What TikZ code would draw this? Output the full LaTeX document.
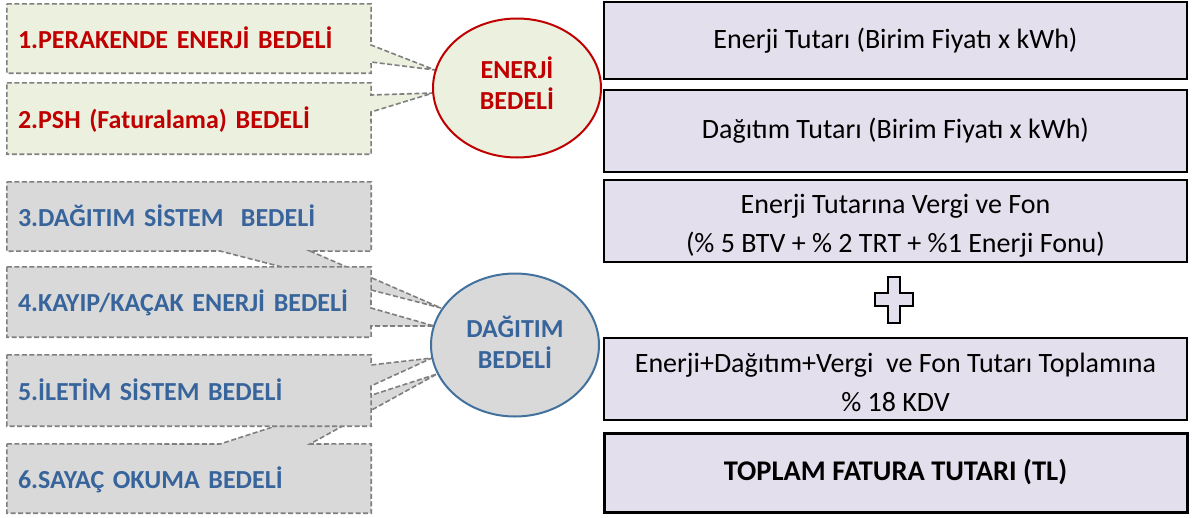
\documentclass[tikz,border=0pt]{standalone}
\usepackage{fontspec}
\setmainfont{Carlito}
\usetikzlibrary{shapes.geometric,backgrounds}

\definecolor{calloutgreen}{HTML}{EBF1DE}
\definecolor{calloutgray}{HTML}{D9D9D9}
\definecolor{dashgray}{HTML}{7F7F7F}
\definecolor{darkred}{HTML}{C00000}
\definecolor{steelblue}{HTML}{38649C}
\definecolor{ringblue}{HTML}{41719C}
\definecolor{lavender}{HTML}{E4DFEC}

% extra depth below the last line of a centred block, to lift it slightly
\newcommand{\liftblock}[1]{\rule[-#1]{0pt}{#1}}
% extra height above the first line of a centred block, to lower it slightly
\newcommand{\dropblock}[1]{\rule{0pt}{#1}}

\begin{document}
\begin{tikzpicture}[x=1pt,y=-1pt,
  itemtext/.style={font=\fontsize{26}{31}\selectfont\bfseries,
    text width=342pt, inner xsep=11pt, inner ysep=0pt,
    text height=24pt, text depth=5pt, align=left, anchor=center},
  redtext/.style={itemtext, text=darkred},
  bluetext/.style={itemtext, text=steelblue},
  greencallout/.style={fill=calloutgreen, draw=dashgray, line width=1.6pt,
    dash pattern=on 5pt off 2.5pt, line join=miter},
  graycallout/.style={greencallout, fill=calloutgray},
  groupring/.style={ellipse, line width=2pt, minimum width=168pt,
    font=\fontsize{26}{31}\selectfont\bfseries, align=center, inner sep=0pt},
  sumbox/.style={draw=black, line width=2pt, fill=lavender,
    minimum width=583pt, inner sep=0pt, align=center,
    font=\fontsize{28}{39}\selectfont}
]
\useasboundingbox (0,0) rectangle (1192,517);

% cost items (text holders; outlines are drawn behind them)
\node[redtext,  minimum height=69pt] (b1) at (189,38.5)  {1.PERAKENDE ENERJİ BEDELİ};
\node[redtext,  minimum height=71pt] (b2) at (189,118.5) {2.PSH (Faturalama) BEDELİ};
\node[bluetext, minimum height=69pt] (b3) at (189,216.5) {3.DAĞITIM SİSTEM\ \ BEDELİ};
\node[bluetext, minimum height=70pt] (b4) at (189,302)   {4.KAYIP/KAÇAK ENERJİ BEDELİ};
\node[bluetext, minimum height=71pt] (b5) at (189,390.5) {5.İLETİM SİSTEM BEDELİ};
\node[bluetext, minimum height=69pt] (b6) at (189,478.5) {6.SAYAÇ OKUMA BEDELİ};

% dashed callout outlines pointing at the group ellipses
\begin{scope}[on background layer]
  \draw[greencallout] (b1.north west) -- (b1.north east) -- (371,45) -- (435,70)
    -- (371,62) -- (b1.south east) -- (b1.south west) -- cycle;
  \draw[greencallout] (b2.north west) -- (b2.north east) -- (371,95) -- (433,93)
    -- (371,112) -- (b2.south east) -- (b2.south west) -- cycle;
  \draw[graycallout] (b3.north west) -- (b3.north east) -- (b3.south east)
    -- (310,251) -- (441,308) -- (220,251) -- (b3.south west) -- cycle;
  \draw[graycallout] (b4.north west) -- (b4.north east) -- (371,308) -- (434,326)
    -- (371,326) -- (b4.south east) -- (b4.south west) -- cycle;
  \draw[graycallout] (b6.north west) -- (220,444) -- (437,374) -- (310,444)
    -- (b6.north east) -- (b6.south east) -- (b6.south west) -- cycle;
  \draw[graycallout] (b5.north west) -- (b5.north east) -- (371,365) -- (432,358)
    -- (371,386) -- (b5.south east) -- (b5.south west) -- cycle;
\end{scope}

% group ellipses
\node[groupring, draw=darkred, fill=calloutgreen, text=darkred,
      minimum height=139pt] (enerji) at (517,88) {ENERJİ\\BEDELİ\liftblock{9pt}};
\node[groupring, draw=ringblue, fill=calloutgray, text=steelblue,
      minimum height=143pt] (dagitim) at (515,345) {DAĞITIM\\BEDELİ\liftblock{5pt}};

% invoice components
\node[sumbox, minimum height=77pt] (r1) at (895.5,40.5) {Enerji Tutarı (Birim Fiyatı x kWh)};
\node[sumbox, minimum height=82pt] (r2) at (895.5,131)  {Dağıtım Tutarı (Birim Fiyatı x kWh)};
\node[sumbox, minimum height=82pt] (r3) at (895.5,221)
  {\dropblock{28pt}Enerji Tutarına Vergi ve Fon\\(\% 5 BTV + \% 2 TRT + \%1 Enerji Fonu)};
\node[sumbox, minimum height=82pt] (r4) at (895.5,379)
  {\dropblock{26pt}Enerji+Dağıtım+Vergi\ \ ve Fon Tutarı Toplamına\\\% 18 KDV};
\node[sumbox, line width=3pt, minimum height=79pt, font=\fontsize{28.5}{39}\selectfont\bfseries]
  (r5) at (895.5,472.5) {TOPLAM FATURA TUTARI (TL)};

% plus sign
\coordinate (plus) at (894,300);
\draw[fill=lavender, line width=1.5pt, line join=miter]
  (plus) ++(-6,-23) -- ++(12,0) -- ++(0,16) -- ++(13,0) -- ++(0,13) -- ++(-13,0)
  -- ++(0,17) -- ++(-12,0) -- ++(0,-17) -- ++(-13,0) -- ++(0,-13) -- ++(13,0) -- cycle;
\end{tikzpicture}
\end{document}
